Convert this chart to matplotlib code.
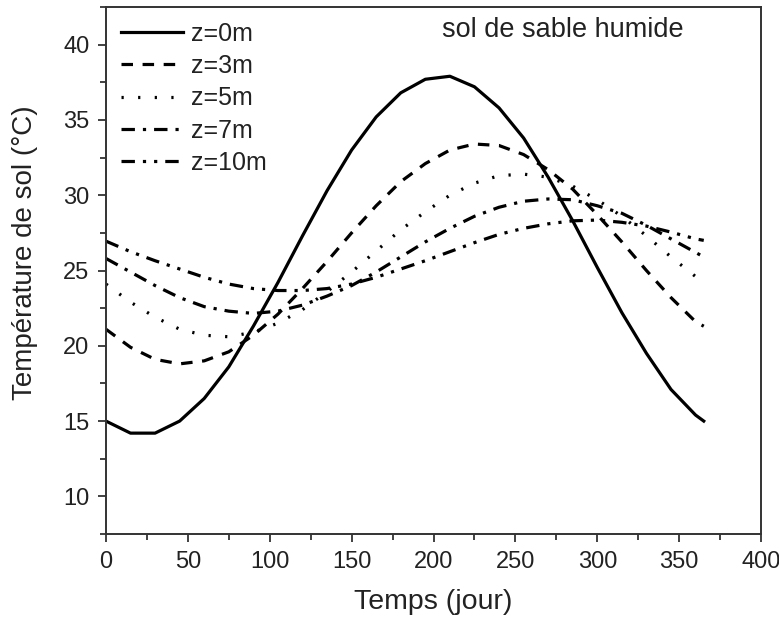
import matplotlib
matplotlib.use("Agg")
import matplotlib.pyplot as plt
from matplotlib.ticker import MultipleLocator

days = [0, 15, 30, 45, 60, 75, 90, 105, 120, 135, 150, 165, 180, 195, 210,
        225, 240, 255, 270, 285, 300, 315, 330, 345, 360, 365]

t_z0 = [15.0, 14.2, 14.2, 15.0, 16.5, 18.6, 21.3, 24.2, 27.3, 30.3, 33.0, 35.2, 36.8,
        37.7, 37.9, 37.2, 35.8, 33.8, 31.2, 28.3, 25.2, 22.2, 19.5, 17.1, 15.4, 15.0]
t_z3 = [21.1, 19.9, 19.1, 18.8, 19.0, 19.6, 20.7, 22.1, 23.8, 25.6, 27.5, 29.3, 30.9,
        32.1, 33.0, 33.4, 33.3, 32.7, 31.7, 30.4, 28.7, 26.9, 25.0, 23.2, 21.6, 21.3]
t_z5 = [24.1, 22.9, 21.9, 21.1, 20.7, 20.6, 20.9, 21.5, 22.4, 23.6, 24.9, 26.3, 27.7,
        28.9, 30.0, 30.8, 31.3, 31.4, 31.2, 30.6, 29.7, 28.6, 27.3, 25.9, 24.6, 24.2]
t_z7 = [25.8, 24.9, 24.0, 23.2, 22.6, 22.3, 22.15, 22.3, 22.7, 23.3, 24.0, 24.9, 25.9,
        26.9, 27.8, 28.6, 29.2, 29.6, 29.75, 29.7, 29.3, 28.8, 28.0, 27.1, 26.2, 25.9]
t_z10 = [26.95, 26.25, 25.65, 25.1, 24.55, 24.1, 23.8, 23.67, 23.67, 23.8, 24.1, 24.55, 25.1,
         25.65, 26.25, 26.85, 27.4, 27.8, 28.1, 28.3, 28.35, 28.2, 27.95, 27.55, 27.1, 27.0]

labels = ["z=0m", "z=3m", "z=5m", "z=7m", "z=10m"]
series = [t_z0, t_z3, t_z5, t_z7, t_z10]

plt.rcParams['font.family'] = ['Liberation Sans', 'DejaVu Sans']

fig = plt.figure(figsize=(7.79, 6.24), dpi=100)
ax = fig.add_axes([0.136, 0.1442, 0.841, 0.8446])

styles = [
    dict(linestyle='-'),
    dict(dashes=(3.6, 3.0)),
    dict(dashes=(0.7, 4.5)),
    dict(dashes=(4.2, 2.5, 1, 2.5)),
    dict(dashes=(4.2, 2.5, 1, 2.5, 1, 2.5)),
]
for lab, ys, st in zip(labels, series, styles):
    ax.plot(days, ys, color='black', lw=2.3, label=lab, **st)

ax.set_xlim(0, 400)
ax.set_ylim(7.5, 42.5)
ax.xaxis.set_major_locator(MultipleLocator(50))
ax.xaxis.set_minor_locator(MultipleLocator(25))
ax.yaxis.set_major_locator(MultipleLocator(5))
ax.yaxis.set_minor_locator(MultipleLocator(2.5))
ax.set_yticks([10, 15, 20, 25, 30, 35, 40])

spine_col = '#333333'
for s in ax.spines.values():
    s.set_color(spine_col)
    s.set_linewidth(1.4)
ax.tick_params(which='both', direction='out', color=spine_col, width=1.3,
               top=False, right=False, labelsize=17, labelcolor='#222222')
ax.tick_params(which='major', length=6, pad=6)
ax.tick_params(which='minor', length=4)

ax.set_xlabel("Temps (jour)", fontsize=20.5, color='#222222', labelpad=12)
ax.set_ylabel("Température de sol (°C)", fontsize=20, color='#222222')
ax.yaxis.set_label_coords(-0.104, 0.533)

leg = ax.legend(loc='upper left', frameon=False, fontsize=18, handlelength=2.5,
                handletextpad=0.3, labelspacing=0.33, borderaxespad=0.2,
                bbox_to_anchor=(0.0, 1.0))
for t in leg.get_texts():
    t.set_color('#222222')

ax.text(0.698, 0.943, "sol de sable humide", transform=ax.transAxes,
        ha='center', va='baseline', fontsize=19.5, color='#222222')

fig.savefig("out.png", dpi=100)
